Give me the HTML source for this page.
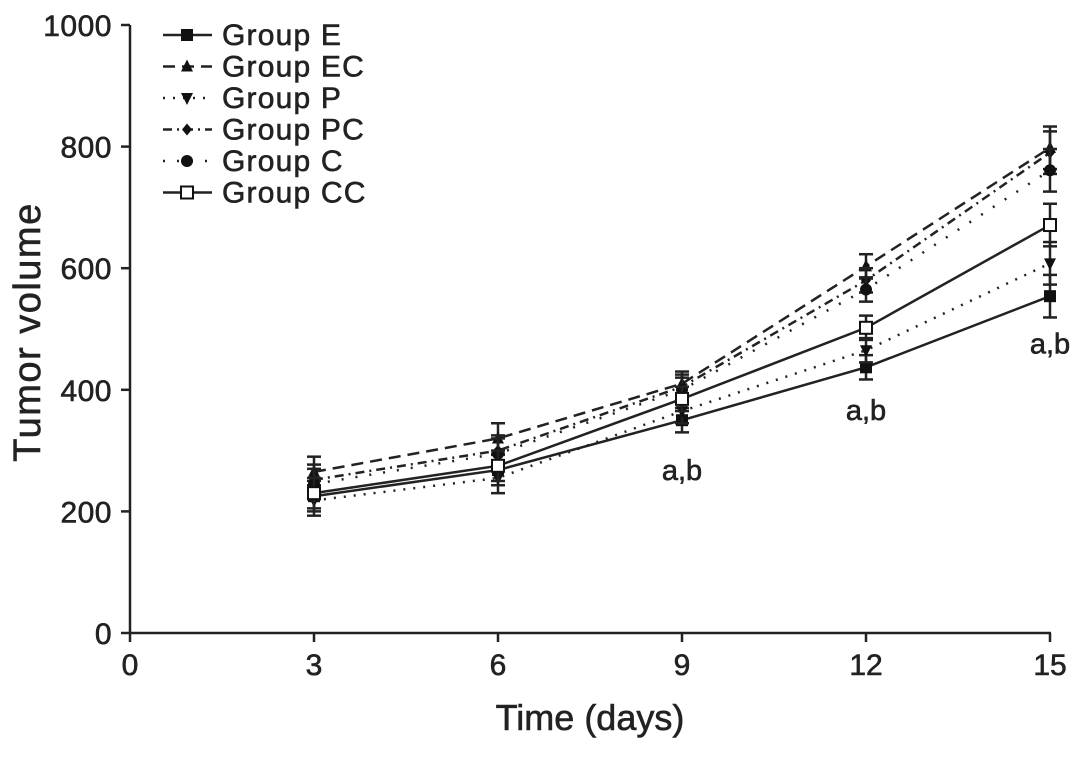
<!DOCTYPE html>
<html><head><meta charset="utf-8"><style>
body{margin:0;background:#fff}
svg text{font-family:"Liberation Sans",Arial,sans-serif;fill:#222;stroke:#222;stroke-width:0.6}
</style></head><body>
<svg id="chart" width="1087" height="752" viewBox="0 0 1087 752" xmlns="http://www.w3.org/2000/svg"></svg>
<script>
const days=[3,6,9,12,15];
const groupNames=["Group E","Group EC","Group P","Group PC","Group C","Group CC"];
const valsE=[225,268,350,437,554];
const valsEC=[265,320,410,603,798];
const valsP=[218,255,365,465,608];
const valsPC=[252,300,405,580,790];
const valsC=[245,295,400,565,761];
const valsCC=[230,275,385,502,671];
const errs=[25,25,20,20,35];
const xTicks=[0,3,6,9,12,15];
const yTicks=[0,200,400,600,800,1000];
const annotations=[[9,"a,b"],[12,"a,b"],[15,"a,b"]];
const annotY=[252,350,460];

const X=d=>130+d*(920/15);
const Y=v=>633-v*0.608;
const svg=document.getElementById('chart');
const NS="http://www.w3.org/2000/svg";
function mk(tag,attrs,parent){const e=document.createElementNS(NS,tag);for(const k in attrs)e.setAttribute(k,attrs[k]);(parent||svg).appendChild(e);return e;}

let ax=mk('line',{x1:130,y1:25,x2:130,y2:634,stroke:'#222','stroke-width':2.5});


ax=mk('line',{x1:129,y1:633,x2:1051,y2:633,stroke:'#222','stroke-width':2.5});


yTicks.forEach(v=>{
  mk('line',{x1:121,y1:Y(v),x2:130,y2:Y(v),stroke:'#222','stroke-width':2.5});
  const t=mk('text',{x:112,y:Y(v)+11,'text-anchor':'end','font-size':30,'letter-spacing':0.5});
  t.textContent=v;
  
  
});
xTicks.forEach(d=>{
  mk('line',{x1:X(d),y1:633,x2:X(d),y2:642,stroke:'#222','stroke-width':2.5});
  const t=mk('text',{x:X(d),y:675,'text-anchor':'middle','font-size':30});
  t.textContent=d;
  
  
});
let t=mk('text',{x:590,y:730,'text-anchor':'middle','font-size':36});
t.textContent='Time (days)';


t=mk('text',{x:40,y:332,'text-anchor':'middle','font-size':38,'letter-spacing':1.5,transform:'rotate(-90 40 332)'});
t.textContent='Tumor volume';



const series=[valsE,valsEC,valsP,valsPC,valsC,valsCC];
const dashes=['none','12,7','2,8','9,5,2,5','2,12','none'];
const markers=['square','triUp','triDown','diamond','circle','openSquare'];
function marker(type,x,y,g){
  if(type==='square')mk('rect',{x:x-6,y:y-6,width:12,height:12,fill:'#111'},g);
  else if(type==='openSquare')mk('rect',{x:x-6,y:y-6,width:12,height:12,fill:'#fff',stroke:'#111','stroke-width':2},g);
  else if(type==='triUp')mk('polygon',{points:`${x},${y-7} ${x-6},${y+5} ${x+6},${y+5}`,fill:'#111'},g);
  else if(type==='triDown')mk('polygon',{points:`${x},${y+7} ${x-6},${y-5} ${x+6},${y-5}`,fill:'#111'},g);
  else if(type==='diamond')mk('polygon',{points:`${x},${y-6} ${x+5},${y} ${x},${y+6} ${x-5},${y}`,fill:'#111'},g);
  else mk('circle',{cx:x,cy:y,r:6,fill:'#111'},g);
}
series.forEach((vals,i)=>{
  const g=mk('g',{});
  
  
  mk('polyline',{points:days.map((d,j)=>X(d)+','+Y(vals[j])).join(' '),fill:'none',stroke:'#222','stroke-width':2.5,'stroke-dasharray':dashes[i]},g);
  days.forEach((d,j)=>{
    const x=X(d),y1=Y(vals[j]+errs[j]),y2=Y(vals[j]-errs[j]);
    mk('line',{x1:x,y1:y1,x2:x,y2:y2,stroke:'#222','stroke-width':2.5},g);
    mk('line',{x1:x-7,y1:y1,x2:x+7,y2:y1,stroke:'#222','stroke-width':2.5},g);
    mk('line',{x1:x-7,y1:y2,x2:x+7,y2:y2,stroke:'#222','stroke-width':2.5},g);
    marker(markers[i],x,Y(vals[j]),g);
  });
});
annotations.forEach((a,i)=>{
  const tx=mk('text',{x:X(a[0]),y:Y(annotY[i]),'text-anchor':'middle','font-size':29});
  tx.textContent=a[1];
  
  
});
groupNames.forEach((n,i)=>{
  const y=35+i*31.5;
  const g=mk('g',{});
  
  
  mk('line',{x1:163,y1:y,x2:212,y2:y,stroke:'#222','stroke-width':2.5,'stroke-dasharray':dashes[i]},g);
  marker(markers[i],187,y,g);
  const tx=mk('text',{x:222,y:y+10,'font-size':30,'letter-spacing':1.2},g);
  tx.textContent=n;
});
</script>
</body></html>
